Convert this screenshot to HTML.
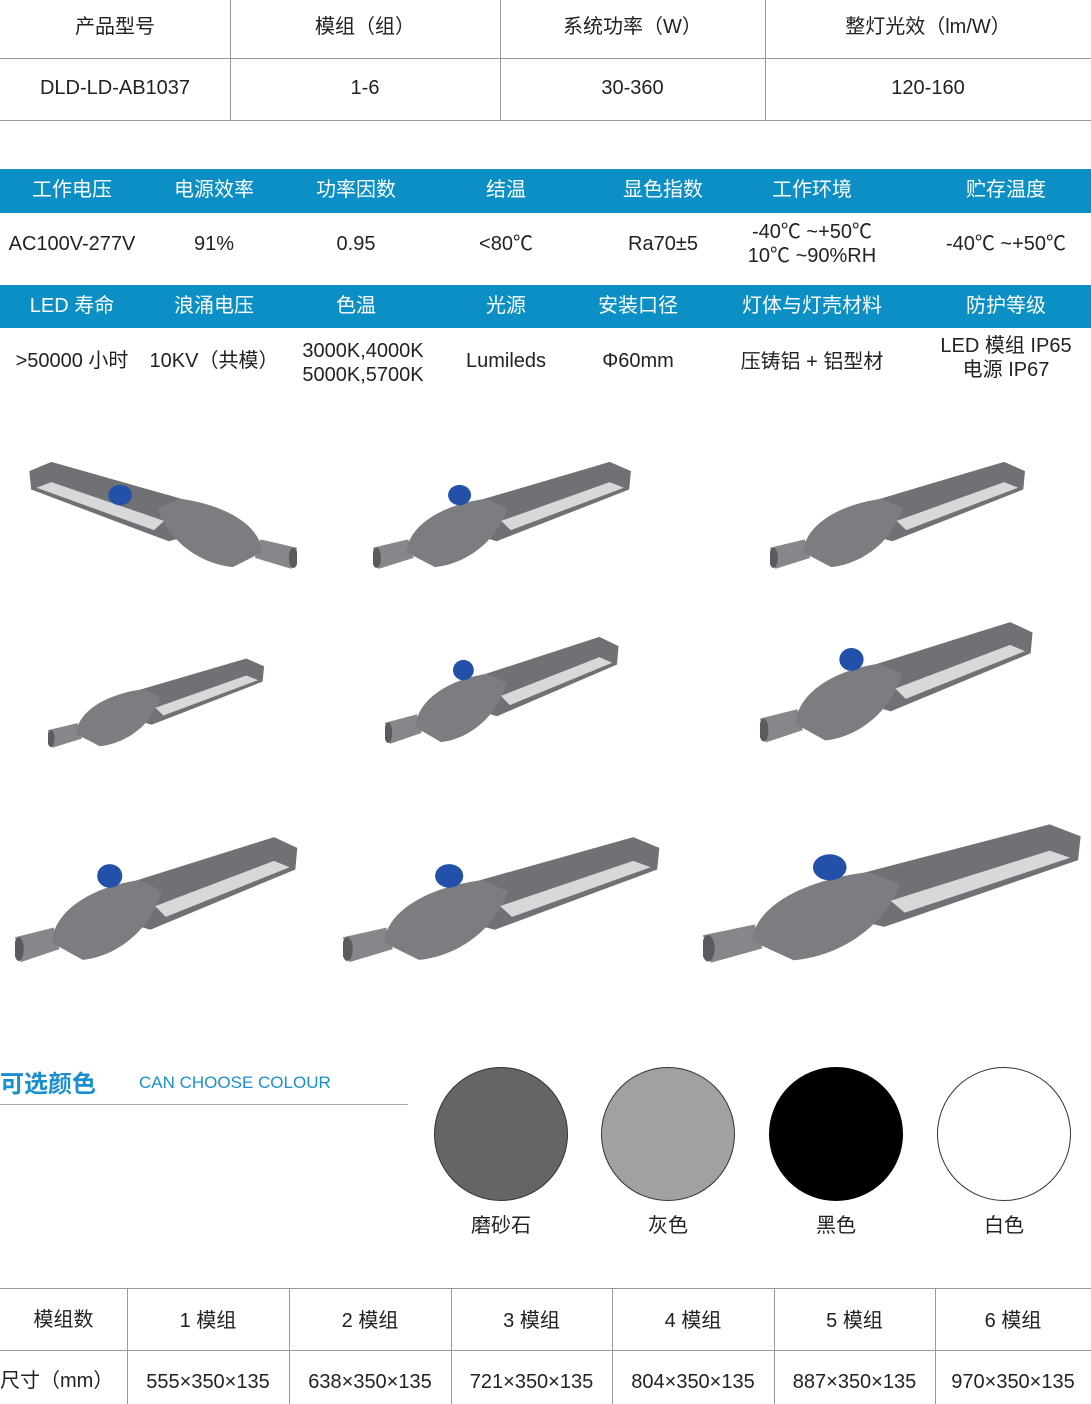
<!DOCTYPE html>
<html><head><meta charset="utf-8"><style>
body{margin:0;width:1091px;height:1404px;background:#fff;position:relative;overflow:hidden;font-family:"Liberation Sans","Noto Sans CJK SC",sans-serif;color:#222}
.a{position:absolute}
.t{position:absolute;text-align:center;font-size:20px;line-height:24px;white-space:nowrap}
.hl{position:absolute;height:1px;background:#999}
.vl{position:absolute;width:1px;background:#999}
.bar{position:absolute;left:0;width:1091px;background:#0b8fc4}
.w{color:#fff}
</style></head><body>
<svg width="0" height="0" style="position:absolute"><defs>
<g id="lamp">
<polygon points="0,95 40,86 46,106 6,118" fill="#85878a"/>
<ellipse cx="4" cy="106" rx="5" ry="11" fill="#5a5b5e"/>
<polygon points="105,48 268,2 292,12 290,32 140,88 118,82" fill="#6f7174"/>
<path d="M38,100 C40,70 80,48 128,42 L152,52 C142,84 110,112 70,116 Z" fill="#7b7d80"/>
<polygon points="145,66 268,24 284,30 156,76" fill="#d6d8da"/>
</g>
<g id="sens"><ellipse cx="98" cy="38" rx="13" ry="11" fill="#2350a8"/></g>
</defs></svg>

<!-- top table -->
<div class="t" style="left:0;width:230px;top:15px">产品型号</div>
<div class="t" style="left:230;left:230px;width:270px;top:15px">模组（组）</div>
<div class="t" style="left:500px;width:265px;top:15px">系统功率（W）</div>
<div class="t" style="left:765px;width:326px;top:15px">整灯光效（lm/W）</div>
<div class="t" style="left:0;width:230px;top:76px">DLD-LD-AB1037</div>
<div class="t" style="left:230px;width:270px;top:76px">1-6</div>
<div class="t" style="left:500px;width:265px;top:76px">30-360</div>
<div class="t" style="left:765px;width:326px;top:76px">120-160</div>
<div class="hl" style="left:0;width:1091px;top:58px"></div>
<div class="hl" style="left:0;width:1091px;top:120px"></div>
<div class="vl" style="left:230px;top:0;height:120px"></div>
<div class="vl" style="left:500px;top:0;height:120px"></div>
<div class="vl" style="left:765px;top:0;height:120px"></div>

<!-- spec rows -->
<div class="bar" style="top:169px;height:44px"></div>
<div class="bar" style="top:285px;height:43px"></div>
<div class="t w" style="left:2px;width:140px;top:178px">工作电压</div>
<div class="t w" style="left:144px;width:140px;top:178px">电源效率</div>
<div class="t w" style="left:286px;width:140px;top:178px">功率因数</div>
<div class="t w" style="left:436px;width:140px;top:178px">结温</div>
<div class="t w" style="left:593px;width:140px;top:178px">显色指数</div>
<div class="t w" style="left:742px;width:140px;top:178px">工作环境</div>
<div class="t w" style="left:936px;width:140px;top:178px">贮存温度</div>
<div class="t" style="left:2px;width:140px;top:232px">AC100V-277V</div>
<div class="t" style="left:144px;width:140px;top:232px">91%</div>
<div class="t" style="left:286px;width:140px;top:232px">0.95</div>
<div class="t" style="left:436px;width:140px;top:232px">&lt;80℃</div>
<div class="t" style="left:593px;width:140px;top:232px">Ra70±5</div>
<div class="t" style="left:742px;width:140px;top:220px">-40℃ ~+50℃<br>10℃ ~90%RH</div>
<div class="t" style="left:936px;width:140px;top:232px">-40℃ ~+50℃</div>
<div class="t w" style="left:2px;width:140px;top:294px">LED 寿命</div>
<div class="t w" style="left:144px;width:140px;top:294px">浪涌电压</div>
<div class="t w" style="left:286px;width:140px;top:294px">色温</div>
<div class="t w" style="left:436px;width:140px;top:294px">光源</div>
<div class="t w" style="left:568px;width:140px;top:294px">安装口径</div>
<div class="t w" style="left:732px;width:160px;top:294px">灯体与灯壳材料</div>
<div class="t w" style="left:936px;width:140px;top:294px">防护等级</div>
<div class="t" style="left:2px;width:140px;top:349px">&gt;50000 小时</div>
<div class="t" style="left:144px;width:140px;top:349px">10KV（共模）</div>
<div class="t" style="left:293px;width:140px;top:339px">3000K,4000K<br>5000K,5700K</div>
<div class="t" style="left:436px;width:140px;top:349px">Lumileds</div>
<div class="t" style="left:568px;width:140px;top:349px">Φ60mm</div>
<div class="t" style="left:732px;width:160px;top:350px">压铸铝 + 铝型材</div>
<div class="t" style="left:936px;width:140px;top:334px">LED 模组 IP65<br>电源 IP67</div>

<!-- lamps -->
<svg class="a" style="left:22px;top:460px" width="275" height="120" viewBox="0 0 300 130" preserveAspectRatio="none"><g transform="translate(300,0) scale(-1,1)"><use href="#lamp"/><use href="#sens" transform="translate(95,0)"/></g></svg>
<svg class="a" style="left:373px;top:460px" width="265" height="120" viewBox="0 0 300 130" preserveAspectRatio="none"><use href="#lamp"/><use href="#sens"/></svg>
<svg class="a" style="left:770px;top:460px" width="262" height="120" viewBox="0 0 300 130" preserveAspectRatio="none"><use href="#lamp"/></svg>
<svg class="a" style="left:48px;top:657px" width="222" height="100" viewBox="0 0 300 130" preserveAspectRatio="none"><use href="#lamp"/></svg>
<svg class="a" style="left:385px;top:635px" width="240" height="120" viewBox="0 0 300 130" preserveAspectRatio="none"><use href="#lamp"/><use href="#sens"/></svg>
<svg class="a" style="left:760px;top:620px" width="280" height="135" viewBox="0 0 300 130" preserveAspectRatio="none"><use href="#lamp"/><use href="#sens"/></svg>
<svg class="a" style="left:15px;top:835px" width="290" height="140" viewBox="0 0 300 130" preserveAspectRatio="none"><use href="#lamp"/><use href="#sens"/></svg>
<svg class="a" style="left:343px;top:835px" width="325" height="140" viewBox="0 0 300 130" preserveAspectRatio="none"><use href="#lamp"/><use href="#sens"/></svg>
<svg class="a" style="left:703px;top:822px" width="388" height="155" viewBox="0 0 300 130" preserveAspectRatio="none"><use href="#lamp"/><use href="#sens"/></svg>

<!-- colours -->
<div class="a" style="left:0;top:1064px;font-size:24px;font-weight:bold;color:#1a8fd0">可选颜色</div>
<div class="a" style="left:139px;top:1073px;font-size:17px;color:#1a8fd0">CAN CHOOSE COLOUR</div>
<div class="hl" style="left:0;width:408px;top:1104px;background:#aaa"></div>
<div class="a" style="left:434px;top:1067px;width:132px;height:132px;border-radius:50%;background:#636566;border:1px solid #333"></div>
<div class="a" style="left:601px;top:1067px;width:132px;height:132px;border-radius:50%;background:#a0a1a3;border:1px solid #333"></div>
<div class="a" style="left:769px;top:1067px;width:132px;height:132px;border-radius:50%;background:#000;border:1px solid #000"></div>
<div class="a" style="left:937px;top:1067px;width:132px;height:132px;border-radius:50%;background:#fff;border:1px solid #333"></div>
<div class="t" style="left:441px;width:120px;top:1214px">磨砂石</div>
<div class="t" style="left:608px;width:120px;top:1214px">灰色</div>
<div class="t" style="left:776px;width:120px;top:1214px">黑色</div>
<div class="t" style="left:944px;width:120px;top:1214px">白色</div>

<!-- bottom table -->
<div class="hl" style="left:0;width:1091px;top:1288px"></div>
<div class="hl" style="left:0;width:1091px;top:1350px"></div>
<div class="vl" style="left:127px;top:1288px;height:116px"></div>
<div class="vl" style="left:289px;top:1288px;height:116px"></div>
<div class="vl" style="left:451px;top:1288px;height:116px"></div>
<div class="vl" style="left:612px;top:1288px;height:116px"></div>
<div class="vl" style="left:774px;top:1288px;height:116px"></div>
<div class="vl" style="left:935px;top:1288px;height:116px"></div>
<div class="t" style="left:0;width:127px;top:1308px">模组数</div>
<div class="t" style="left:127px;width:162px;top:1309px">1 模组</div>
<div class="t" style="left:289px;width:162px;top:1309px">2 模组</div>
<div class="t" style="left:451px;width:161px;top:1309px">3 模组</div>
<div class="t" style="left:612px;width:162px;top:1309px">4 模组</div>
<div class="t" style="left:774px;width:161px;top:1309px">5 模组</div>
<div class="t" style="left:935px;width:156px;top:1309px">6 模组</div>
<div class="t" style="left:0;width:127px;top:1369px;text-align:left">尺寸（mm）</div>
<div class="t" style="left:127px;width:162px;top:1370px">555×350×135</div>
<div class="t" style="left:289px;width:162px;top:1370px">638×350×135</div>
<div class="t" style="left:451px;width:161px;top:1370px">721×350×135</div>
<div class="t" style="left:612px;width:162px;top:1370px">804×350×135</div>
<div class="t" style="left:774px;width:161px;top:1370px">887×350×135</div>
<div class="t" style="left:935px;width:156px;top:1370px">970×350×135</div>
</body></html>
